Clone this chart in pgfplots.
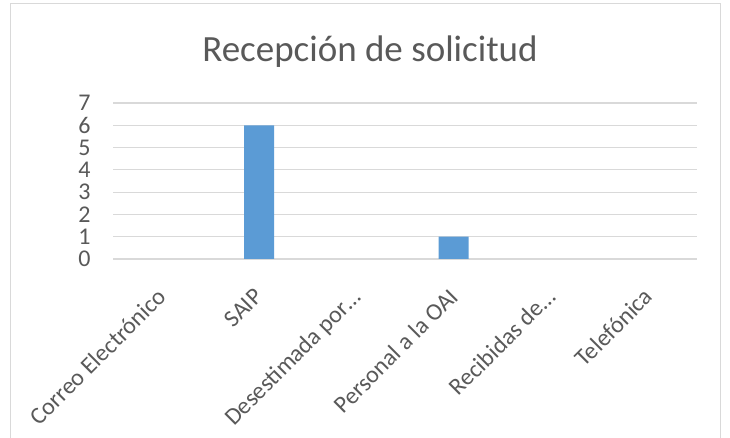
\documentclass[border=0pt]{standalone}
\usepackage{fontspec}
\setmainfont{Carlito}
\usepackage{pgfplots}
\pgfplotsset{compat=1.18}
\definecolor{barblue}{HTML}{5B9BD5}
\definecolor{gridgray}{HTML}{D9D9D9}
\definecolor{txtgray}{HTML}{595959}
\begin{document}
\begin{tikzpicture}[x=1bp,y=1bp]
\path[use as bounding box] (0,0) rectangle (730,438);
\draw[gridgray, line width=1bp] (10,-10) rectangle (720,434);
\node[txtgray, font=\fontsize{37bp}{42bp}\selectfont] at (370,386) {Recepción de solicitud};
\begin{axis}[
  at={(113bp,179bp)}, anchor=south west,
  scale only axis, width=584bp, height=156bp,
  ymin=0, ymax=7, xmin=-0.5, xmax=5.5,
  ytick={0,1,...,7},
  xtick={0,...,5},
  xticklabels={Correo Electrónico, SAIP, Desestimada por…, Personal a la OAI, Recibidas de…, Telefónica},
  xticklabel style={anchor=north east, xshift=-6bp, yshift=-23bp, rotate=45, font=\fontsize{24bp}{26bp}\selectfont, text=txtgray},
  yticklabel style={font=\fontsize{24bp}{26bp}\selectfont, text=txtgray, xshift=-19bp},
  /pgf/number format/assume math mode=true,
  ymajorgrids, grid style={gridgray, line width=1.2bp},
  axis line style={draw=none},
  major tick length=0pt,
  ybar, bar width=30bp,
  ytick style={draw=none}, xtick style={draw=none},
  clip=false,
]
\addplot[fill=barblue, draw=none] coordinates {(1,6) (3,1)};
\end{axis}
\end{tikzpicture}
\end{document}
